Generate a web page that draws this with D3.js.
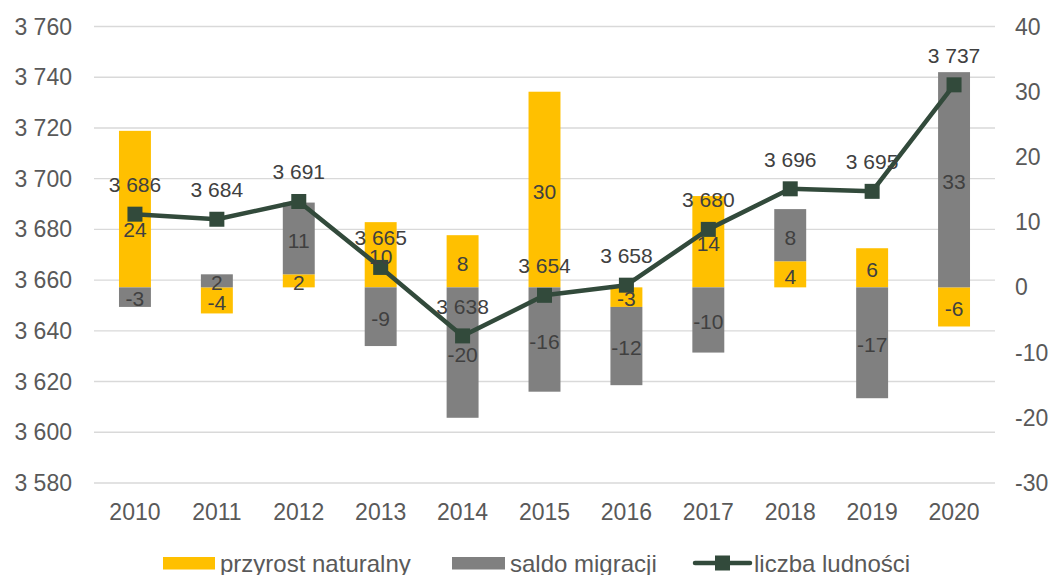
<!DOCTYPE html>
<html>
<head>
<meta charset="utf-8">
<script src="https://cdn.jsdelivr.net/npm/d3@7"></script>
<style>
  body { margin: 0; background: #fff; }
  svg { display: block; font-family: "Liberation Sans", Arial, sans-serif; }
</style>
</head>
<body>
<div id="chart"></div>
<script>
const lata = [2010, 2011, 2012, 2013, 2014, 2015, 2016, 2017, 2018, 2019, 2020];
const przyrostNaturalny = [24, -4, 2, 10, 8, 30, -3, 14, 4, 6, -6];
const saldoMigracji = [-3, 2, 11, -9, -20, -16, -12, -10, 8, -17, 33];
const liczbaLudnosci = [3686, 3684, 3691, 3665, 3638, 3654, 3658, 3680, 3696, 3695, 3737];
const lewaOs = [3580, 3600, 3620, 3640, 3660, 3680, 3700, 3720, 3740, 3760];
const prawaOs = [-30, -20, -10, 0, 10, 20, 30, 40];

const paleta = {
  przyrost: "#FFC000",
  saldo: "#808080",
  linia: "#324A3B",
  siatka: "#D9D9D9",
  osie: "#595959",
  etykiety: "#404040",
};

const width = 1053;
const height = 575;
const top_ = 26.5, bottom = 483;

const svg = d3.select("#chart").append("svg")
  .attr("width", width)
  .attr("height", height);

const x = d3.scaleBand().domain(lata).range([94, 995])
  .paddingInner(0.61).paddingOuter(0.305);
const yL = d3.scaleLinear().domain([3580, 3760]).range([bottom, top_]);
const yR = d3.scaleLinear().domain([-30, 40]).range([bottom, top_]);
const cx = (d) => x(d) + x.bandwidth() / 2;
const fmt = (v) => d3.format(",")(v).replace(",", " ");

// siatka
svg.append("g").selectAll("line").data(lewaOs).join("line")
  .attr("x1", 94).attr("x2", 995)
  .attr("y1", (d) => yL(d)).attr("y2", (d) => yL(d))
  .attr("stroke", paleta.siatka).attr("stroke-width", 1.4);

// osie
svg.append("g").selectAll("text").data(lewaOs).join("text")
  .attr("x", 72).attr("y", (d) => yL(d)).attr("dy", "0.35em")
  .attr("text-anchor", "end").attr("font-size", 23).attr("fill", paleta.osie)
  .text(fmt);

svg.append("g").selectAll("text").data(prawaOs).join("text")
  .attr("x", 1015).attr("y", (d) => yR(d)).attr("dy", "0.35em")
  .attr("text-anchor", "start").attr("font-size", 23).attr("fill", paleta.osie)
  .text((d) => d);

svg.append("g").selectAll("text").data(lata).join("text")
  .attr("x", cx).attr("y", 520)
  .attr("text-anchor", "middle").attr("font-size", 23).attr("fill", paleta.osie)
  .text((d) => d);

// słupki skumulowane
const tabela = lata.map((rok, i) => ({
  rok, przyrost: przyrostNaturalny[i], saldo: saldoMigracji[i], ludnosc: liczbaLudnosci[i],
}));
const stack = d3.stack().keys(["przyrost", "saldo"]).offset(d3.stackOffsetDiverging);
const serie = stack(tabela);

const gBars = svg.append("g");
serie.forEach((s) => {
  gBars.append("g").attr("fill", paleta[s.key])
    .selectAll("rect").data(s).join("rect")
    .attr("x", (d) => x(d.data.rok))
    .attr("width", x.bandwidth())
    .attr("y", (d) => yR(Math.max(d[0], d[1])))
    .attr("height", (d) => Math.abs(yR(d[0]) - yR(d[1])));
});

// linia
const linia = d3.line().x((d) => cx(d.rok)).y((d) => yL(d.ludnosc));
svg.append("path").datum(tabela)
  .attr("fill", "none").attr("stroke", paleta.linia)
  .attr("stroke-width", 4.5).attr("stroke-linejoin", "round")
  .attr("d", linia);

svg.append("g").selectAll("rect").data(tabela).join("rect")
  .attr("x", (d) => cx(d.rok) - 7.5).attr("y", (d) => yL(d.ludnosc) - 7.5)
  .attr("width", 15).attr("height", 15).attr("fill", paleta.linia);

// etykiety słupków
const gLab = svg.append("g").attr("font-size", 21).attr("fill", paleta.etykiety)
  .attr("text-anchor", "middle");
serie.forEach((s) => {
  gLab.append("g").selectAll("text").data(s).join("text")
    .attr("x", (d) => cx(d.data.rok))
    .attr("y", (d) => {
      let yy = yR((d[0] + d[1]) / 2) + 2;
      const ym = yL(d.data.ludnosc);
      if (Math.abs(yy - ym) < 8) yy = ym + 15; // żeby nie zasłaniać znacznika
      return yy;
    })
    .attr("dy", "0.35em")
    .text((d) => d.data[s.key]);
});

// etykiety linii
svg.append("g").selectAll("text").data(tabela).join("text")
  .attr("x", (d) => cx(d.rok)).attr("y", (d) => yL(d.ludnosc) - 22)
  .attr("text-anchor", "middle").attr("font-size", 21).attr("fill", paleta.etykiety)
  .text((d) => fmt(d.ludnosc));

// legenda
const leg = svg.append("g").attr("font-size", 24).attr("fill", paleta.osie);
leg.append("rect").attr("x", 163).attr("y", 557).attr("width", 52).attr("height", 12.5).attr("fill", paleta.przyrost);
leg.append("text").attr("x", 220).attr("y", 572).text("przyrost naturalny");
leg.append("rect").attr("x", 452).attr("y", 557).attr("width", 53).attr("height", 12.5).attr("fill", paleta.saldo);
leg.append("text").attr("x", 510).attr("y", 572).text("saldo migracji");
leg.append("line").attr("x1", 695).attr("x2", 750).attr("y1", 563).attr("y2", 563)
  .attr("stroke", paleta.linia).attr("stroke-width", 4.5).attr("stroke-linecap", "round");
leg.append("rect").attr("x", 715).attr("y", 555.5).attr("width", 15).attr("height", 15).attr("fill", paleta.linia);
leg.append("text").attr("x", 754).attr("y", 572).text("liczba ludności");
</script>
</body>
</html>
